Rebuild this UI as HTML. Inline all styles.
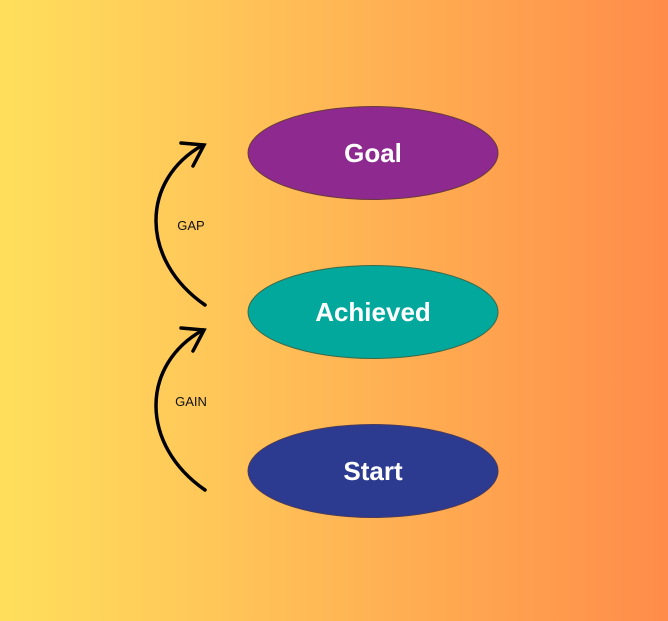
<!DOCTYPE html>
<html><head><style>
html,body{margin:0;padding:0}
body{width:668px;height:621px;overflow:hidden;background:linear-gradient(90deg,#ffdf5c 0%,#ffc458 35%,#ffa650 70%,#ff8c4a 100%)}
</style></head><body>
<svg width="668" height="621" xmlns="http://www.w3.org/2000/svg" style="position:absolute;left:0;top:0">
<ellipse cx="373" cy="153" rx="125" ry="46.5" fill="#8e2a8f" stroke="#6a3a3a" stroke-width="1"/>
<ellipse cx="373" cy="312" rx="125" ry="46.5" fill="#03a89c" stroke="#3a6a4a" stroke-width="1"/>
<ellipse cx="373" cy="471" rx="125" ry="46.5" fill="#2c3a90" stroke="#4a3a5a" stroke-width="1"/>
<g font-family="Liberation Sans, sans-serif" font-weight="bold" font-size="26" fill="#fff" text-anchor="middle">
<text x="373" y="162">Goal</text>
<text x="373" y="321">Achieved</text>
<text x="373" y="480">Start</text>
</g>
<g fill="none" stroke="#000" stroke-width="3.5" stroke-linecap="round">
<path d="M205,305 C140,260 140,180 203,145"/>
<path d="M181,143 L204,145 L193,166"/>
<path d="M205,490 C140,445 140,365 203,330"/>
<path d="M181,328 L204,330 L193,351"/>
</g>
<g font-family="Liberation Sans, sans-serif" font-size="13" fill="#111" text-anchor="middle">
<text x="191" y="230">GAP</text>
<text x="191" y="406">GAIN</text>
</g>
</svg>
</body></html>
